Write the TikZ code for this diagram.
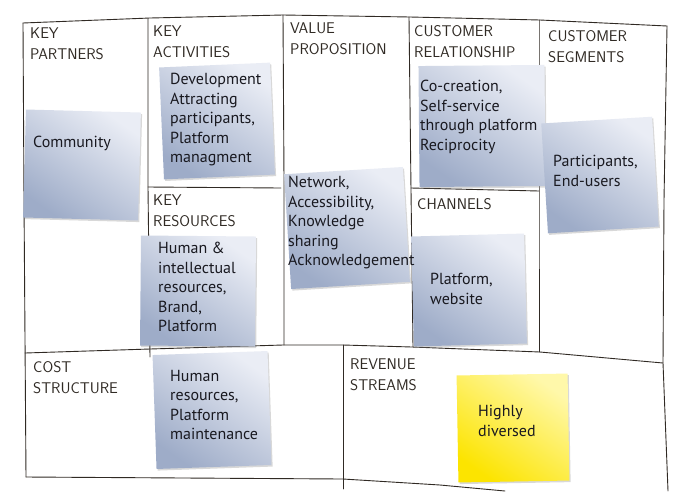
\documentclass[tikz,border=0pt]{standalone}
\usepackage{fontspec}
\setmainfont{PT Sans}
\usetikzlibrary{shadows}
\definecolor{ink}{RGB}{48,42,36}
\definecolor{nlight}{RGB}{234,237,245}
\definecolor{ndark}{RGB}{158,172,200}
\definecolor{ylight}{RGB}{255,248,170}
\definecolor{ydark}{RGB}{252,228,0}
\definecolor{notetext}{RGB}{25,25,32}
\begin{document}
\begin{tikzpicture}[x=1pt,y=-1pt,
  frame/.style={draw=ink, line width=0.9pt, line join=round, line cap=round},
  stickynote/.style={inner sep=0pt, top color=nlight, bottom color=ndark, shading angle=-35,
    drop shadow={opacity=0.3, shadow xshift=1.2pt, shadow yshift=-1.6pt}},
  yellownote/.style={stickynote, top color=ylight, bottom color=ydark, shading angle=-35},
  notetxt/.style={anchor=north west, inner sep=0pt, align=left, text=notetext,
    font=\fontsize{16}{19.5}\selectfont},
  heading/.style={anchor=north west, inner sep=0pt, align=left, text=ink,
    font=\sffamily\fontsize{15.5}{21}\selectfont}]
\useasboundingbox (0,0) rectangle (690,491);
\fill[white] (0,0) rectangle (690,491);

% ---- hand-drawn grid ----
\coordinate (tl) at (23,23);
\coordinate (tr) at (667,26);
\coordinate (bl) at (26,477);
\coordinate (br) at (668,491);
\draw[frame] (tl) -- (150,18) -- (283,15) -- (410,17) -- (540,20) -- (tr);
\draw[frame] (tl) -- (24,200) -- (bl);
\draw[frame] (tr) -- (664,200) -- (663,363) -- (br);
\draw[frame] (bl) -- (343,479) -- (440,485) -- (505,491);
\draw[frame] (25,353) -- (150,349) -- (283,345) -- (343,345) -- (412,347) -- (540,352) -- (663,363);
\draw[frame] (148,19) -- (148,187) -- (150,357);
\draw[frame] (283,15) -- (284,180) -- (284,345);
\draw[frame] (409,17) -- (411,190) -- (413,347);
\draw[frame] (539,20) -- (539,188) -- (539,352);
\draw[frame] (343,345) -- (343,489);
\draw[frame] (148,187) -- (281,188);
\draw[frame] (411,188) -- (539,191);

% ---- headings ----
\node[heading] (hkp) at (30,28) {KEY\\PARTNERS};
\node[heading] (hka) at (153,26) {KEY\\ACTIVITIES};
\node[heading] (hvp) at (290,23) {VALUE\\PROPOSITION};
\node[heading] (hcr) at (414,25) {CUSTOMER\\RELATIONSHIP};
\node[heading] (hcs) at (548,30) {CUSTOMER\\SEGMENTS};
\node[heading] (hkr) at (153,195) {KEY\\RESOURCES};
\node[heading] (hch) at (417,198) {CHANNELS};
\node[heading] (hcost) at (33,361) {COST\\STRUCTURE};
\node[heading] (hrev) at (350,359) {REVENUE\\STREAMS};

% ---- sticky notes ----
\node[stickynote, minimum width=115pt, minimum height=108pt, rotate=-1.5] (n1) at (82,165) {};
\node[stickynote, minimum width=111pt, minimum height=112pt, rotate=2.5] (n2) at (217,121) {};
\node[stickynote, minimum width=115pt, minimum height=110pt, rotate=-0.5] (n3) at (198,291) {};
\node[stickynote, minimum width=119pt, minimum height=115pt, rotate=3.5] (n4) at (347,228) {};
\node[stickynote, minimum width=126pt, minimum height=121pt, rotate=0.5] (n5) at (482,126) {};
\node[stickynote, minimum width=111pt, minimum height=110pt, rotate=3.5] (n6) at (600,175) {};
\node[stickynote, minimum width=113pt, minimum height=110pt, rotate=1.5] (n7) at (469,290) {};
\node[stickynote, minimum width=115pt, minimum height=114pt, rotate=2] (n8) at (212,410) {};
\node[yellownote, minimum width=111pt, minimum height=107pt, rotate=1] (n9) at (513,428) {};

% ---- note texts ----
\node[notetxt] (t1) at (33,136) {Community};
\node[notetxt] (t2) at (170,73) {Development\\Attracting\\participants,\\Platform\\managment};
\node[notetxt] (t3) at (158,242) {Human \&\\intellectual\\resources,\\Brand,\\Platform};
\node[notetxt] (t4) at (288,176) {Network,\\Accessibility,\\Knowledge\\sharing\\Acknowledgement};
\node[notetxt] (t5) at (420,80) {Co-creation,\\Self-service\\through platform\\Reciprocity};
\node[notetxt] (t6) at (553,155) {Participants,\\End-users};
\node[notetxt] (t7) at (430,273) {Platform,\\website};
\node[notetxt] (t8) at (170,370) {Human\\resources,\\Platform\\maintenance};
\node[notetxt] (t9) at (478,405) {Highly\\diversed};
\end{tikzpicture}
\end{document}
